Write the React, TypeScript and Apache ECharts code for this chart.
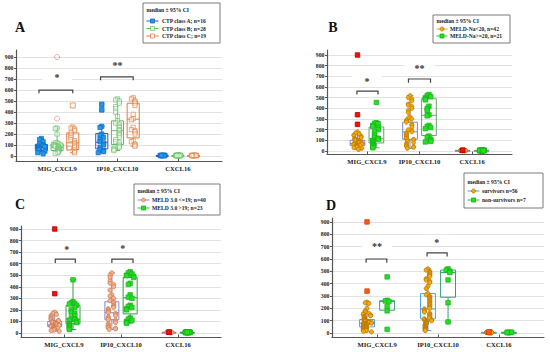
import { useEffect, useRef } from 'react';
import * as echarts from 'echarts';

const CATEGORIES = ['MIG_CXCL9', 'IP10_CXCL10', 'CXCL16'];
const Y_TICKS = [0, 100, 200, 300, 400, 500, 600, 700, 800, 900];
const X_TICKS = [0, 1, 2];
const LEGEND_TITLE = 'median ± 95% CI';
const PANEL_LETTERS = ['A', 'B', 'C', 'D'];

// ---------- Panel A ----------
const A_NAMES = ['CTP class A; n=16', 'CTP class B; n=28', 'CTP class C; n=19'];
const A1_MIG = [160, 150, 130, 110, 100, 95, 90, 85, 80, 75, 70, 60, 55, 45, 30, 20];
const A2_MIG = [255, 250, 200, 120, 120, 110, 105, 100, 100, 95, 90, 85, 80, 80, 75, 70, 65, 60, 60, 55, 50, 45, 40, 35, 30, 25];
const A2_MIG_OUT = [900, 340];
const A3_MIG = [265, 255, 245, 230, 210, 190, 170, 150, 140, 125, 115, 100, 90, 80, 70, 55, 40, 30];
const A3_MIG_OUT = [460];
const A1_IP10 = [270, 260, 200, 190, 170, 150, 130, 120, 100, 80, 60, 50, 40, 30];
const A1_IP10_OUT = [470, 420];
const A2_IP10 = [520, 510, 500, 480, 450, 430, 400, 360, 320, 300, 290, 270, 260, 240, 230, 210, 200, 190, 170, 150, 130, 120, 100, 90, 80, 70, 60, 50];
const A3_IP10 = [530, 520, 500, 490, 480, 460, 380, 340, 330, 260, 240, 230, 220, 200, 140, 130, 110, 100, 90];
const A1_CX = [4, 5, 6, 5, 3, 7, 5, 4, 6, 5, 8, 4, 5, 6, 3, 5];
const A2_CX = [4, 5, 6, 5, 3, 7, 5, 4, 6, 5, 8, 4, 5, 6, 3, 5, 4, 6, 5, 7, 3, 5, 6, 4, 5, 6, 4, 5];
const A3_CX = [4, 5, 6, 5, 3, 7, 5, 4, 6, 5, 8, 4, 5, 6, 3, 5, 4, 6, 5];
const A1_BOX = [[20, 50, 80, 105, 160], [30, 65, 125, 205, 270], [3, 4, 5, 6, 8]];
const A2_BOX = [[25, 50, 80, 110, 255], [50, 105, 230, 320, 520], [3, 4, 5, 6, 8]];
const A3_BOX = [[30, 60, 120, 210, 265], [90, 165, 335, 480, 530], [3, 4, 5, 6, 8]];
const A_BRACKETS = [[-0.3, 0.26, 600, 570], [0.72, 1.26, 720, 690]];
const A_STARS = [[0, 735], [1, 845]];
const A_STAR_TEXT = ['*', '**'];

// ---------- Panel B ----------
const B_NAMES = ['MELD-Na<20, n=42', 'MELD-Na>=20, n=21'];
const B1_MIG = [180, 170, 160, 150, 145, 140, 130, 125, 120, 115, 110, 105, 100, 100, 95, 90, 85, 80, 80, 75, 75, 70, 70, 65, 65, 60, 60, 55, 55, 50, 50, 45, 40, 40, 35, 30, 25, 20, 15];
const B1_MIG_OUT = [900, 340, 250];
const B2_MIG = [455, 265, 260, 255, 240, 230, 220, 200, 180, 150, 130, 120, 110, 100, 90, 80, 70, 60, 50, 40, 30];
const B1_IP10 = [520, 500, 490, 470, 440, 430, 420, 400, 380, 360, 320, 310, 300, 290, 280, 270, 250, 240, 220, 200, 190, 180, 170, 160, 150, 140, 130, 120, 115, 110, 105, 100, 90, 80, 70, 60, 50, 45, 40, 35, 30, 25];
const B2_IP10 = [530, 520, 510, 500, 490, 480, 420, 400, 380, 340, 330, 240, 230, 220, 210, 140, 130, 110, 100, 90, 85];
const B1_CX = [4, 5, 6, 5, 3, 7, 5, 4, 6, 5, 8, 4, 5, 6, 3, 5, 4, 6, 5, 7, 3, 5, 6, 4, 5, 6, 4, 5, 4, 5, 6, 5, 3, 7, 5, 4, 6, 5, 8, 4, 5, 6];
const B1_CX_OUT = [6, 7];
const B2_CX = [4, 5, 6, 5, 3, 7, 5, 4, 6, 5, 8, 4, 5, 6, 3, 5, 4, 6, 5, 7, 3];
const B1_BOX = [[15, 50, 70, 100, 180], [25, 110, 180, 270, 520], [3, 4, 5, 6, 8]];
const B2_BOX = [[30, 75, 115, 225, 265], [85, 145, 335, 490, 530], [3, 4, 5, 6, 8]];
const B_BRACKETS = [[-0.19, 0.21, 562, 530], [0.79, 1.21, 675, 640]];
const B_STARS = [[0, 675], [1, 800]];
const B_STAR_TEXT = ['*', '**'];

// ---------- Panel C ----------
const C_NAMES = ['MELD 3.0 <=19; n=40', 'MELD 3.0 >19; n=23'];
const C1_MIG = [180, 170, 160, 150, 140, 130, 120, 115, 110, 105, 100, 95, 90, 90, 85, 80, 80, 75, 70, 70, 65, 65, 60, 60, 55, 55, 50, 50, 45, 45, 40, 40, 35, 30, 30, 25, 20, 15];
const C1_MIG_OUT = [900, 340];
const C2_MIG = [460, 270, 260, 255, 250, 240, 220, 200, 180, 170, 150, 130, 120, 115, 110, 100, 90, 80, 70, 60, 50, 40, 30];
const C1_IP10 = [520, 500, 480, 450, 430, 420, 400, 370, 330, 320, 300, 280, 270, 260, 240, 230, 220, 210, 200, 190, 180, 175, 170, 160, 150, 140, 130, 120, 115, 110, 100, 90, 80, 70, 60, 50, 45, 40, 35, 30];
const C2_IP10 = [530, 520, 510, 500, 495, 490, 480, 430, 420, 330, 310, 300, 240, 230, 220, 210, 200, 130, 120, 110, 100, 90, 85];
const C1_CX = [4, 5, 6, 5, 3, 7, 5, 4, 6, 5, 8, 4, 5, 6, 3, 5, 4, 6, 5, 7, 3, 5, 6, 4, 5, 6, 4, 5, 4, 5, 6, 5, 3, 7, 5, 4, 6, 5];
const C1_CX_OUT = [6, 7];
const C2_CX = [4, 5, 6, 5, 3, 7, 5, 4, 6, 5, 8, 4, 5, 6, 3, 5, 4, 6, 5, 7, 3, 5, 6];
const C1_BOX = [[15, 55, 70, 100, 180], [30, 115, 175, 270, 520], [3, 4, 5, 6, 8]];
const C2_BOX = [[30, 80, 120, 240, 460], [85, 165, 305, 480, 530], [3, 4, 5, 6, 8]];
const C_BRACKETS = [[-0.15, 0.2, 640, 605], [0.84, 1.21, 640, 605]];
const C_STARS = [[0.05, 745], [1.03, 750]];
const C_STAR_TEXT = ['*', '*'];

// ---------- Panel D ----------
const D_NAMES = ['survivors n=56', 'non-survivors n=7'];
const D1_MIG = [250, 245, 240, 200, 180, 170, 160, 155, 150, 145, 140, 135, 130, 125, 120, 115, 110, 105, 100, 100, 95, 95, 90, 90, 85, 85, 80, 80, 75, 75, 70, 70, 65, 65, 60, 60, 55, 55, 50, 50, 45, 45, 40, 40, 35, 35, 30, 30, 25, 25, 20, 20, 15, 10];
const D1_MIG_OUT = [900, 340];
const D2_MIG = [455, 265, 260, 255, 215, 180, 30];
const D1_IP10 = [520, 510, 500, 490, 480, 470, 460, 440, 430, 420, 410, 380, 360, 320, 310, 300, 290, 280, 270, 260, 250, 240, 230, 220, 210, 200, 195, 190, 180, 170, 160, 150, 140, 130, 120, 115, 110, 105, 100, 100, 95, 90, 85, 80, 75, 70, 65, 60, 55, 50, 45, 40, 35, 30, 25, 20];
const D2_IP10 = [520, 510, 500, 490, 430, 245, 90];
const D1_CX = [4, 5, 6, 5, 3, 7, 5, 4, 6, 5, 8, 4, 5, 6, 3, 5, 4, 6, 5, 7, 3, 5, 6, 4, 5, 6, 4, 5, 4, 5, 6, 5, 3, 7, 5, 4, 6, 5, 8, 4, 5, 6, 4, 5, 6, 5, 3, 7, 5, 4, 6, 5, 8, 4];
const D1_CX_OUT = [6, 7];
const D2_CX = [4, 5, 6, 5, 3, 7, 5];
const D1_BOX = [[10, 50, 80, 110, 250], [20, 115, 195, 320, 520], [3, 4, 5, 6, 8]];
const D2_BOX = [[185, 185, 255, 262, 262], [90, 290, 490, 510, 520], [3, 4, 5, 6, 8]];
const D_BRACKETS = [[-0.18, 0.16, 600, 570], [0.82, 1.15, 650, 620]];
const D_STARS = [[0, 720], [0.98, 755]];
const D_STAR_TEXT = ['**', '*'];

const FONT = '"Liberation Serif", "DejaVu Serif", serif';

type Style = {
  box: string; fill: string; stroke: string; symbol: string; size: number;
  oFill: string; oStroke: string; oSymbol: string; oSize: number; leg: string;
};
type Group = { name: string; pts: number[][]; out: number[][]; box: number[][]; st: Style };
type Legend = { x: number; y: number; w: number; h: number; titleY: number; rows: number[]; lineLen: number; textDx: number };
type Panel = {
  grid: number[]; y: number[]; x: number[]; offsets: number[]; boxW: number;
  groups: Group[]; brackets: number[][]; stars: number[][]; starText: string[];
  legend: Legend; letter: number[];
};

const red = { oFill: '#ee1111', oStroke: '#c00000', oSymbol: 'rect', oSize: 4.5 };

const PANELS: Panel[] = [
  {
    grid: [16, 50, 206, 111], y: [-45, 964], x: [-0.68, 2.73], offsets: [-0.26, 0, 0.26], boxW: 0.2,
    groups: [
      { name: A_NAMES[0], pts: [A1_MIG, A1_IP10, A1_CX], out: [[], A1_IP10_OUT, []], box: A1_BOX,
        st: { box: '#3d4bd9', fill: '#1d9bf0', stroke: '#1565c0', symbol: 'rect', size: 4.2, oFill: '#1d9bf0', oStroke: '#1565c0', oSymbol: 'rect', oSize: 4.5, leg: '#3d4bd9' } },
      { name: A_NAMES[1], pts: [A2_MIG, A2_IP10, A2_CX], out: [A2_MIG_OUT, [], []], box: A2_BOX,
        st: { box: '#5dbb5d', fill: 'rgba(255,255,255,0.5)', stroke: '#6cc46c', symbol: 'rect', size: 4.2, oFill: 'rgba(255,255,255,0)', oStroke: '#e89595', oSymbol: 'circle', oSize: 5, leg: '#5dbb5d' } },
      { name: A_NAMES[2], pts: [A3_MIG, A3_IP10, A3_CX], out: [A3_MIG_OUT, [], []], box: A3_BOX,
        st: { box: '#e07b39', fill: 'rgba(255,255,255,0.5)', stroke: '#e3844a', symbol: 'rect', size: 4.2, oFill: 'rgba(255,255,255,0)', oStroke: '#e3844a', oSymbol: 'rect', oSize: 5, leg: '#e07b39' } },
    ],
    brackets: A_BRACKETS, stars: A_STARS, starText: A_STAR_TEXT,
    legend: { x: 143, y: 3, w: 77, h: 40, titleY: 10, rows: [21, 28.5, 36], lineLen: 12, textDx: 19 },
    letter: [20, 27],
  },
  {
    grid: [327, 50, 185, 104], y: [-28, 947], x: [-0.76, 2.76], offsets: [-0.18, 0.18], boxW: 0.28,
    groups: [
      { name: B_NAMES[0], pts: [B1_MIG, B1_IP10, B1_CX], out: [B1_MIG_OUT, [], B1_CX_OUT], box: B1_BOX,
        st: { box: '#7f83c9', fill: '#f6aa10', stroke: '#b87a00', symbol: 'circle', size: 4, ...red, leg: '#d9a040' } },
      { name: B_NAMES[1], pts: [B2_MIG, B2_IP10, B2_CX], out: [[], [], []], box: B2_BOX,
        st: { box: '#6f9f6f', fill: '#22e022', stroke: '#18b018', symbol: 'rect', size: 4.5, oFill: '#22e022', oStroke: '#18b018', oSymbol: 'rect', oSize: 4.5, leg: '#22cc22' } },
    ],
    brackets: B_BRACKETS, stars: B_STARS, starText: B_STAR_TEXT,
    legend: { x: 433, y: 15, w: 77, h: 28, titleY: 21, rows: [29, 36], lineLen: 11, textDx: 17 },
    letter: [333, 27],
  },
  {
    grid: [21, 226, 200, 111], y: [-35, 926], x: [-0.75, 2.75], offsets: [-0.16, 0.16], boxW: 0.245,
    groups: [
      { name: C_NAMES[0], pts: [C1_MIG, C1_IP10, C1_CX], out: [C1_MIG_OUT, [], C1_CX_OUT], box: C1_BOX,
        st: { box: '#8c88cc', fill: '#f5b48c', stroke: '#c87650', symbol: 'circle', size: 4.2, ...red, leg: '#8c88cc' } },
      { name: C_NAMES[1], pts: [C2_MIG, C2_IP10, C2_CX], out: [[], [], []], box: C2_BOX,
        st: { box: '#3a9a46', fill: '#22e022', stroke: '#18b018', symbol: 'rect', size: 4.5, oFill: '#22e022', oStroke: '#18b018', oSymbol: 'rect', oSize: 4.5, leg: '#22cc22' } },
    ],
    brackets: C_BRACKETS, stars: C_STARS, starText: C_STAR_TEXT,
    legend: { x: 134, y: 184, w: 86, h: 31, titleY: 191, rows: [200, 208], lineLen: 12, textDx: 18 },
    letter: [20, 204],
  },
  {
    grid: [332, 218, 212, 119], y: [-32, 932], x: [-0.74, 2.74], offsets: [-0.165, 0.165], boxW: 0.245,
    groups: [
      { name: D_NAMES[0], pts: [D1_MIG, D1_IP10, D1_CX], out: [D1_MIG_OUT, [], D1_CX_OUT], box: D1_BOX,
        st: { box: '#45a5e5', fill: '#f6aa10', stroke: '#b07000', symbol: 'circle', size: 4.2, oFill: '#ff5a1a', oStroke: '#e04000', oSymbol: 'rect', oSize: 4.5, leg: '#45a5e5' } },
      { name: D_NAMES[1], pts: [D2_MIG, D2_IP10, D2_CX], out: [[], [], []], box: D2_BOX,
        st: { box: '#3a9c7a', fill: '#22e022', stroke: '#18b018', symbol: 'rect', size: 4.5, oFill: '#22e022', oStroke: '#18b018', oSymbol: 'rect', oSize: 4.5, leg: '#22cc22' } },
    ],
    brackets: D_BRACKETS, stars: D_STARS, starText: D_STAR_TEXT,
    legend: { x: 464, y: 173, w: 79, h: 35, titleY: 182, rows: [191, 200], lineLen: 12, textDx: 18 },
    letter: [331, 205],
  },
];

// deterministic beeswarm placement (horizontal layout only)
function swarm(values: number[], center: number, stepX: number, winY: number, maxX: number) {
  const placed: number[] = [];
  return values.map((v) => {
    let k = 0;
    for (const p of placed) if (Math.abs(p - v) < winY) k++;
    placed.push(v);
    let off = (k % 2 === 1 ? -1 : 1) * Math.ceil(k / 2) * stepX;
    if (Math.abs(off) > maxX) {
      const slots = Math.max(1, Math.floor(maxX / stepX));
      const m = k % (2 * slots + 1);
      off = (m - slots) * stepX + (k % 2 ? stepX / 2 : 0);
      off = Math.max(-maxX, Math.min(maxX, off));
    }
    return [center + off, v];
  });
}

function buildOption() {
  const series: any[] = [];
  const graphics: any[] = [];

  PANELS.forEach((P, pi) => {
    const pxPerX = P.grid[2] / (P.x[1] - P.x[0]);
    const pxPerY = P.grid[3] / (P.y[1] - P.y[0]);
    const stepX = 1.8 / pxPerX;
    const winY = 3.5 / pxPerY;
    const maxX = P.boxW * 0.36;
    const maxCx = 3.5 / pxPerX;

    P.groups.forEach((G, gi) => {
      const st = G.st;
      const boxData = G.box.map((b, ci) => [ci + P.offsets[gi], ...b]);
      const color = st.box;
      const bw = P.boxW;
      series.push({
        type: 'custom', xAxisIndex: pi, yAxisIndex: pi, silent: true, z: 2,
        encode: { x: 0, y: [1, 2, 3, 4, 5] },
        data: boxData,
        renderItem: (params: any, api: any) => {
          const x = api.value(0);
          const half = api.size([bw, 0])[0] / 2;
          const vMin = api.value(1), vQ1 = api.value(2), vMed = api.value(3), vQ3 = api.value(4), vMax = api.value(5);
          const pMin = api.coord([x, vMin]);
          const pQ1 = api.coord([x, vQ1]);
          const pMed = api.coord([x, vMed]);
          const pQ3 = api.coord([x, vQ3]);
          const pMax = api.coord([x, vMax]);
          const cx = pMed[0];
          const ls = { stroke: color, lineWidth: 1, fill: null };
          const ch: any[] = [];
          if (vMax > vQ3) {
            ch.push({ type: 'line', shape: { x1: cx, y1: pQ3[1], x2: cx, y2: pMax[1] }, style: ls });
            ch.push({ type: 'line', shape: { x1: cx - half * 0.45, y1: pMax[1], x2: cx + half * 0.45, y2: pMax[1] }, style: ls });
          }
          if (vMin < vQ1) {
            ch.push({ type: 'line', shape: { x1: cx, y1: pQ1[1], x2: cx, y2: pMin[1] }, style: ls });
            ch.push({ type: 'line', shape: { x1: cx - half * 0.45, y1: pMin[1], x2: cx + half * 0.45, y2: pMin[1] }, style: ls });
          }
          ch.push({ type: 'rect', shape: { x: cx - half, y: pQ3[1], width: 2 * half, height: Math.max(1, pQ1[1] - pQ3[1]) }, style: { stroke: color, fill: 'rgba(255,255,255,0)', lineWidth: 1 } });
          ch.push({ type: 'line', shape: { x1: cx - half, y1: pMed[1], x2: cx + half, y2: pMed[1] }, style: ls });
          return { type: 'group', children: ch };
        },
      });

      const pts: number[][] = [];
      G.pts.forEach((vals, ci) => {
        const sw = ci === 2
          ? swarm(vals, ci + P.offsets[gi], stepX, 1000, maxCx)
          : swarm(vals, ci + P.offsets[gi], stepX, winY, maxX);
        sw.forEach((p) => pts.push(p));
      });
      series.push({
        type: 'scatter', name: G.name, xAxisIndex: pi, yAxisIndex: pi, silent: true, z: 3,
        symbol: st.symbol, symbolSize: st.size, data: pts,
        itemStyle: { color: st.fill, borderColor: st.stroke, borderWidth: 0.7, opacity: 1 },
      });
      const outs: number[][] = [];
      G.out.forEach((vals, ci) => {
        vals.forEach((v) => outs.push([ci + P.offsets[gi], v]));
      });
      if (outs.length) {
        series.push({
          type: 'scatter', xAxisIndex: pi, yAxisIndex: pi, silent: true, z: 4,
          symbol: st.oSymbol, symbolSize: st.oSize, data: outs,
          itemStyle: { color: st.oFill, borderColor: st.oStroke, borderWidth: 0.8, opacity: 1 },
        });
      }
    });

    // significance brackets and stars
    const texts = P.starText;
    const stars = P.stars;
    series.push({
      type: 'custom', xAxisIndex: pi, yAxisIndex: pi, silent: true, z: 5,
      encode: { x: [0, 1], y: [2, 3] },
      data: P.brackets,
      renderItem: (params: any, api: any) => {
        const i = params.dataIndex;
        const a = api.coord([api.value(0), api.value(3)]);
        const b = api.coord([api.value(0), api.value(2)]);
        const c = api.coord([api.value(1), api.value(2)]);
        const d = api.coord([api.value(1), api.value(3)]);
        const s = api.coord(stars[i]);
        return {
          type: 'group',
          children: [
            { type: 'rect', shape: { x: s[0] - 15, y: s[1] - 5, width: 30, height: 10 }, style: { fill: '#ffffff' } },
            { type: 'polyline', shape: { points: [a, b, c, d] }, style: { stroke: '#444', lineWidth: 1.2, fill: null } },
            { type: 'text', x: s[0], y: s[1] + 2.5, style: { text: texts[i], font: `bold 10px ${FONT}`, fill: '#333', align: 'center', verticalAlign: 'middle' } },
          ],
        };
      },
    });

    // legend box
    const L = P.legend;
    graphics.push({ type: 'rect', shape: { x: L.x, y: L.y, width: L.w, height: L.h }, style: { fill: '#fff', stroke: '#7a7a7a', lineWidth: 1 }, z: 10 });
    graphics.push({ type: 'text', x: L.x + 3.5, y: L.titleY, style: { text: LEGEND_TITLE, font: `bold 5.6px ${FONT}`, fill: '#222', verticalAlign: 'middle' }, z: 11 });
    P.groups.forEach((G, gi) => {
      const y = L.rows[gi];
      const x0 = L.x + 3.5;
      const mx = x0 + L.lineLen / 2;
      graphics.push({ type: 'line', shape: { x1: x0, y1: y, x2: x0 + L.lineLen, y2: y }, style: { stroke: G.st.leg, lineWidth: 1 }, z: 11 });
      if (G.st.symbol === 'circle') {
        graphics.push({ type: 'circle', shape: { cx: mx, cy: y, r: 2 }, style: { fill: G.st.fill, stroke: G.st.stroke, lineWidth: 0.7 }, z: 12 });
      } else {
        graphics.push({ type: 'rect', shape: { x: mx - 2, y: y - 2, width: 4, height: 4 }, style: { fill: G.st.fill === 'rgba(255,255,255,0.5)' ? '#fff' : G.st.fill, stroke: G.st.stroke, lineWidth: 0.8 }, z: 12 });
      }
      graphics.push({ type: 'text', x: L.x + L.textDx, y, style: { text: G.name, font: `bold 5.6px ${FONT}`, fill: '#222', verticalAlign: 'middle' }, z: 11 });
    });
    graphics.push({ type: 'text', x: P.letter[0], y: P.letter[1], style: { text: PANEL_LETTERS[pi], font: `bold 14px ${FONT}`, fill: '#111', align: 'center', verticalAlign: 'middle' }, z: 11 });
  });

  return {
    animation: false,
    backgroundColor: '#ffffff',
    grid: PANELS.map((P) => ({ left: P.grid[0], top: P.grid[1], width: P.grid[2], height: P.grid[3], containLabel: false, outerBoundsMode: 'none' })),
    xAxis: PANELS.map((P, pi) => ({
      type: 'value', gridIndex: pi, min: P.x[0], max: P.x[1],
      axisLine: { show: true, onZero: false, lineStyle: { color: '#555', width: 1.2 } },
      axisTick: { show: true, inside: true, length: 2.5, customValues: X_TICKS, lineStyle: { color: '#555' } },
      axisLabel: { customValues: X_TICKS, formatter: (v: number) => CATEGORIES[Math.round(v)] ?? '', fontSize: 6.6, fontWeight: 'bold', fontFamily: FONT, color: '#222', margin: 4 },
      splitLine: { show: false },
    })),
    yAxis: PANELS.map((P, pi) => ({
      type: 'value', gridIndex: pi, min: P.y[0], max: P.y[1],
      axisLine: { show: true, onZero: false, lineStyle: { color: '#555', width: 1.2 } },
      axisTick: { show: true, inside: false, length: 2, customValues: Y_TICKS, lineStyle: { color: '#555' } },
      axisLabel: { customValues: Y_TICKS, fontSize: 5.8, fontWeight: 'bold', fontFamily: FONT, color: '#222', margin: 2.5 },
      splitLine: { show: true, lineStyle: { color: '#e2e2e2', width: 1 } },
    })),
    series,
    graphic: graphics,
  };
}

export default function App() {
  const ref = useRef<HTMLDivElement>(null);
  useEffect(() => {
    if (!ref.current) return;
    const chart = echarts.init(ref.current, undefined, { renderer: 'svg' });
    chart.setOption(buildOption() as any);
    return () => chart.dispose();
  }, []);
  return <div ref={ref} style={{ position: 'fixed', left: 0, top: 0, width: 550, height: 352, background: '#fff' }} />;
}
